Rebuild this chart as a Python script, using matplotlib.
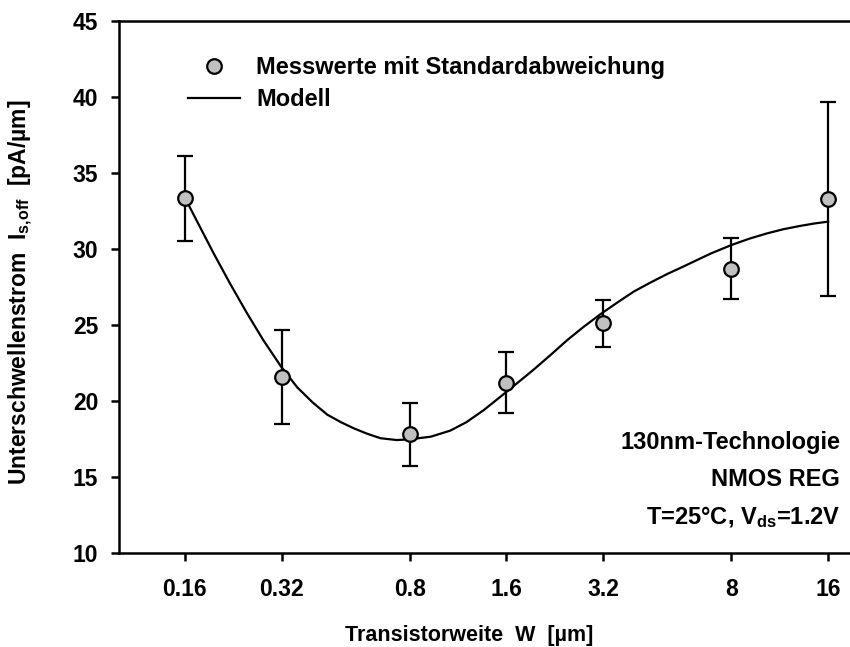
import matplotlib.pyplot as plt
from matplotlib.ticker import FixedLocator, NullLocator

plt.rcParams['font.family'] = ['Liberation Sans', 'DejaVu Sans']
plt.rcParams['font.weight'] = 'bold'
plt.rcParams['mathtext.fontset'] = 'custom'
plt.rcParams['mathtext.rm'] = 'Liberation Sans:bold'
plt.rcParams['mathtext.it'] = 'Liberation Sans:bold'
plt.rcParams['mathtext.bf'] = 'Liberation Sans:bold'
plt.rcParams['mathtext.default'] = 'rm'

# Messwerte (Mittelwert und Standardabweichung)
breite = [0.16, 0.32, 0.8, 1.6, 3.2, 8, 16]
strom = [33.35, 21.6, 17.8, 21.2, 25.1, 28.7, 33.3]
std_abw = [2.8, 3.1, 2.1, 2.0, 1.55, 2.0, 6.4]
tick_labels = ['0.16', '0.32', '0.8', '1.6', '3.2', '8', '16']

# Modellkurve
modell_w = [0.16, 0.178, 0.197, 0.222, 0.25, 0.28, 0.318, 0.358, 0.40,
            0.444, 0.49, 0.537, 0.59, 0.65, 0.73, 0.8, 0.93, 1.07, 1.2,
            1.36, 1.6, 1.78, 1.94, 2.2, 2.47, 2.78, 3.13, 3.55, 3.98, 4.49,
            5.05, 5.68, 6.9, 8, 9.1, 10.3, 11.6, 13.1, 14.5, 16]
modell_i = [33.4, 31.5, 29.7, 27.68, 25.77, 24.05, 22.3, 20.9, 19.9,
            19.1, 18.6, 18.2, 17.85, 17.55, 17.43, 17.48, 17.65, 18.05, 18.6,
            19.4, 20.6, 21.4, 22.05, 23.05, 24.0, 24.88, 25.7, 26.5, 27.2, 27.8,
            28.35, 28.85, 29.7, 30.26, 30.68, 31.02, 31.3, 31.52, 31.68, 31.8]

fig = plt.figure(figsize=(8.5, 6.47), dpi=100)
ax = fig.add_axes([119 / 850, 94 / 647, 731 / 850, 532 / 647])

ax.errorbar(breite, strom, yerr=std_abw, fmt='none', ecolor='black',
            elinewidth=1.6, capsize=6, capthick=1.6, zorder=2)
linie, = ax.plot(modell_w, modell_i, color='black', lw=1.6, zorder=3)
punkte, = ax.plot(breite, strom, 'o', ms=10.5, mfc='#c0c0c0', mec='black',
                  mew=1.6, zorder=4, linestyle='none')

ax.set_xscale('log')
ax.set_xlim(0.1, 18.7)
ax.set_ylim(10, 45)
ax.xaxis.set_major_locator(FixedLocator(breite))
ax.xaxis.set_minor_locator(NullLocator())
ax.set_xticklabels(tick_labels)
ax.set_yticks(range(10, 50, 5))

ax.spines['right'].set_visible(False)
for s in ['left', 'bottom', 'top']:
    ax.spines[s].set_linewidth(1.8)
ax.tick_params(axis='both', direction='out', length=6, width=1.8,
               labelsize=16.5)
ax.tick_params(axis='x', pad=12)
ax.tick_params(axis='y', pad=9)

fig.text(21 / 850, 1 - 292 / 647,
         'Unterschwellenstrom  I$_{s{,}off}$  [pA/µm]',
         rotation=90, ha='center', va='center', fontsize=16.5)
fig.text(469 / 850, 1 - 635 / 647, 'Transistorweite  W  [µm]',
         ha='center', va='center', fontsize=15.5)

ax.legend([punkte, linie], ['Messwerte mit Standardabweichung', 'Modell'],
          loc='upper left', bbox_to_anchor=(188 / 850, 1 - 56 / 647),
          bbox_transform=fig.transFigure, frameon=False, fontsize=17,
          handlelength=2.2, handletextpad=0.68, labelspacing=0.38,
          borderpad=0, borderaxespad=0)

info = ['130nm-Technologie', 'NMOS REG', 'T=25°C, V$_{ds}$=1.2V']
for k, txt in enumerate(info):
    fig.text(840 / 850, 1 - (443 + 37 * k) / 647, txt, ha='right',
             va='center', fontsize=17)

fig.savefig('out.png', dpi=100)
